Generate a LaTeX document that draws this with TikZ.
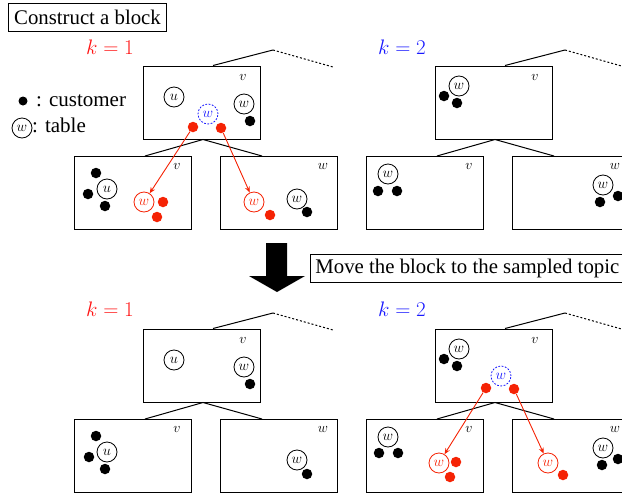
\RequirePackage{fix-cm}
\documentclass[tikz,border=0pt]{standalone}
\usepackage{fontspec}
\setmainfont{Liberation Serif}
\usetikzlibrary{arrows.meta,calc}
\definecolor{dotred}{RGB}{245,35,5}
\definecolor{kred}{RGB}{255,20,20}
\definecolor{kblue}{RGB}{25,25,255}
\begin{document}
\begin{tikzpicture}[x=1pt,y=-1pt,
  blk/.style={draw,line width=1pt,minimum width=117pt,minimum height=73pt,inner sep=0pt},
  tbl/.style={draw,circle,line width=0.8pt,minimum size=20pt,inner sep=0pt,font=\fontsize{14.5}{14.5}\selectfont},
  cust/.style={fill,circle,minimum size=10.5pt,inner sep=0pt},
  rcust/.style={cust,fill=dotred},
  rtbl/.style={tbl,draw=dotred,text=dotred},
  btbl/.style={tbl,draw=kblue,text=kblue,dash pattern=on 1.8pt off 1.5pt},
  lbl/.style={font=\fontsize{14}{14}\selectfont,inner sep=0pt},
  edgeline/.style={line width=1pt},
  dotline/.style={line width=1pt,dash pattern=on 2pt off 2pt},
  rarr/.style={draw=dotred,line width=0.9pt,-{Stealth[length=6pt,width=5pt]}},
  titlebox/.style={draw,line width=0.9pt,inner xsep=5pt,inner ysep=0pt,minimum height=28pt,font=\fontsize{20.8}{24}\selectfont},
  ktext/.style={font=\fontsize{21}{24}\selectfont,inner sep=0pt},
  legtext/.style={font=\fontsize{21}{24}\selectfont,inner sep=0pt,anchor=base west},
]
\useasboundingbox (0,0) rectangle (622,493);
\clip (0,0) rectangle (622,493);

% tree skeletons
\foreach \g/\dx/\dy in {A/0/0,B/292/0,C/0/263,D/292/263}{
  \begin{scope}[shift={(\dx,\dy)}]
    \node[blk] (p\g) at (201.5,102.5) {};
    \node[blk] (l\g) at (132.5,193) {};
    \node[blk] (r\g) at (279,193) {};
    \coordinate (apex\g) at (273,50);
    \coordinate (end\g) at (333,67);
    \draw[edgeline] ([xshift=11.5pt]p\g.north) -- (apex\g);
    \draw[dotline] (apex\g) -- (end\g);
    \draw[edgeline] ([xshift=12.5pt]l\g.north) -- ([xshift=1.5pt]p\g.south) -- ([xshift=-17pt]r\g.north);
    \node[lbl] (pv\g) at (243,77) {$v$};
    \node[lbl] (lv\g) at (177,166) {$v$};
    \node[lbl] (rw\g) at (323,166) {$w$};
  \end{scope}
}

% titles and labels
\node[titlebox,inner xsep=6pt] (title1) at (87.5,17) {Construct a block};
\node[titlebox,anchor=west] (title2) at (310,268) {Move the block to the sampled topic};
\node[ktext,text=kred] (k1a) at (110,47) {$k=1$};
\node[ktext,text=kblue] (k2a) at (402,47) {$k=2$};
\node[ktext,text=kred] (k1b) at (110,309) {$k=1$};
\node[ktext,text=kblue] (k2b) at (402,309) {$k=2$};

% legend
\node[cust,minimum size=9pt] (legdot) at (23,101) {};
\node[legtext] (legcust) at (36,106) {: customer};
\node[tbl] (legw) at (22,128) {$w$};
\node[legtext] (legtab) at (32,132) {: table};

% big arrow
\fill (266,243) -- (287,243) -- (287,276) -- (305,276) -- (277,292) -- (249,276) -- (266,276) -- cycle;

% group A
\node[tbl] (uA) at (174,97) {$u$};
\node[tbl] (wA) at (244,104) {$w$};
\node[cust] (cA1) at (250,121) {};
\node[btbl] (bwA) at (208,114) {$w$};
\node[rcust] (rdA1) at (193,127) {};
\node[rcust] (rdA2) at (221,128) {};
\node[tbl] (uAl) at (107,189) {$u$};
\node[cust] (cA2) at (96,173) {};
\node[cust] (cA3) at (88,194) {};
\node[cust] (cA4) at (105,206) {};
\node[rtbl] (rwAl) at (144,202) {$w$};
\node[rcust] (rdA3) at (163,202) {};
\node[rcust] (rdA4) at (157,217) {};
\node[rtbl] (rwAr) at (254,202) {$w$};
\node[rcust] (rdA5) at (270,215) {};
\node[tbl] (wAr) at (297,199) {$w$};
\node[cust] (cA5) at (307,212) {};
\draw[rarr] (rdA1) -- (rwAl);
\draw[rarr] (rdA2) -- (rwAr);

% group B
\node[tbl] (wB) at (459,86) {$w$};
\node[cust] (cB1) at (444,96) {};
\node[cust] (cB2) at (457,103) {};
\node[tbl] (wBl) at (388,174) {$w$};
\node[cust] (cB3) at (378,191) {};
\node[cust] (cB4) at (397,191) {};
\node[tbl] (wBr) at (603,185) {$w$};
\node[cust] (cB5) at (600,202) {};
\node[cust] (cB6) at (618,196) {};

% group C
\node[tbl] (uC) at (174,360) {$u$};
\node[tbl] (wC) at (244,367) {$w$};
\node[cust] (cC1) at (250,384) {};
\node[tbl] (uCl) at (107,452) {$u$};
\node[cust] (cC2) at (96,436) {};
\node[cust] (cC3) at (89,457) {};
\node[cust] (cC4) at (105,469) {};
\node[tbl] (wCr) at (297,460) {$w$};
\node[cust] (cC5) at (307,474) {};

% group D
\node[tbl] (wD) at (459,349) {$w$};
\node[cust] (cD1) at (444,359) {};
\node[cust] (cD2) at (457,366) {};
\node[btbl] (bwD) at (501,376) {$w$};
\node[rcust] (rdD1) at (486,388) {};
\node[rcust] (rdD2) at (514,389) {};
\node[tbl] (wDl) at (388,437) {$w$};
\node[cust] (cD3) at (379,453) {};
\node[cust] (cD4) at (398,453) {};
\node[rtbl] (rwDl) at (439,463) {$w$};
\node[rcust] (rdD3) at (456,462) {};
\node[rcust] (rdD4) at (450,477) {};
\node[rtbl] (rwDr) at (548,463) {$w$};
\node[rcust] (rdD5) at (563,475) {};
\node[tbl] (wDr) at (603,448) {$w$};
\node[cust] (cD5) at (602,465) {};
\node[cust] (cD6) at (618,459) {};
\draw[rarr] (rdD1) -- (rwDl);
\draw[rarr] (rdD2) -- (rwDr);
\end{tikzpicture}
\end{document}
